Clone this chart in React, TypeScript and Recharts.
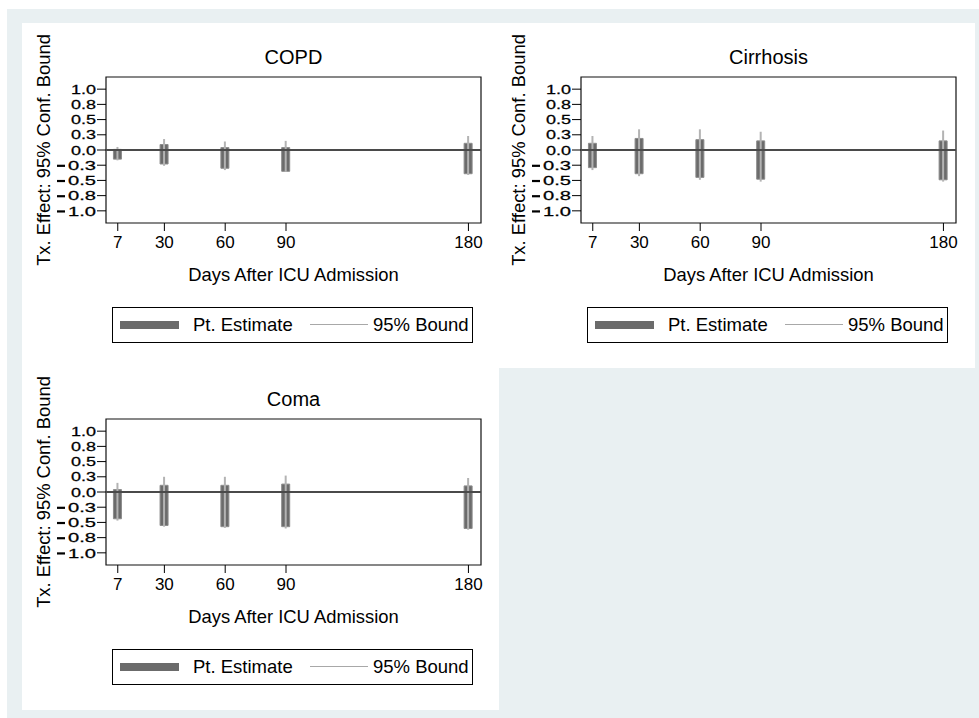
import React from 'react'
import { Bar, ComposedChart, ReferenceArea, ReferenceLine, XAxis, YAxis } from 'recharts'

const days = [7, 30, 60, 90, 180]
const xTicks = [7, 30, 60, 90, 180]
const yTicks = [-1, -0.75, -0.5, -0.25, 0, 0.25, 0.5, 0.75, 1]
const yTickLabels = ['-1.0', '-0.8', '-0.5', '-0.3', '0.0', '0.3', '0.5', '0.8', '1.0']

// COPD
const copdEstLow = [-0.15, -0.23, -0.3, -0.35, -0.39]
const copdEstHigh = [0.01, 0.09, 0.04, 0.04, 0.11]
const copdBoundLow = [-0.17, -0.26, -0.33, -0.36, -0.41]
const copdBoundHigh = [0.05, 0.18, 0.14, 0.15, 0.23]

// Cirrhosis
const cirrEstLow = [-0.29, -0.39, -0.45, -0.48, -0.49]
const cirrEstHigh = [0.11, 0.19, 0.17, 0.15, 0.15]
const cirrBoundLow = [-0.33, -0.43, -0.49, -0.52, -0.52]
const cirrBoundHigh = [0.23, 0.34, 0.34, 0.3, 0.32]

// Coma
const comaEstLow = [-0.44, -0.55, -0.57, -0.57, -0.6]
const comaEstHigh = [0.04, 0.11, 0.11, 0.13, 0.1]
const comaBoundLow = [-0.47, -0.57, -0.59, -0.6, -0.62]
const comaBoundHigh = [0.15, 0.25, 0.25, 0.27, 0.23]

const FONT = 'Liberation Sans, Arial, Helvetica, sans-serif'
const X_DOMAIN: [number, number] = [1.2, 186.2]
const Y_DOMAIN: [number, number] = [-1.2, 1.2]
const EST_COLOR = '#6b6b6b'
const BOUND_COLOR = '#b3b3b3'

function buildRows(estLow: number[], estHigh: number[], boundLow: number[], boundHigh: number[]) {
  return days.map((day, i) => ({
    day,
    est: [estLow[i], estHigh[i]],
    bound: [boundLow[i], boundHigh[i]],
  }))
}

function YTick(props: any) {
  const { x, y, payload } = props
  const idx = yTicks.indexOf(payload.value)
  const label = idx >= 0 ? yTickLabels[idx] : String(payload.value)
  const neg = label.startsWith('-')
  const digits = neg ? label.slice(1) : label
  const stretch = neg ? { textLength: 28, lengthAdjust: 'spacingAndGlyphs' } : {}
  return (
    <g>
      {neg && <rect x={x - 39} y={y - 0.5} width={8} height={2.2} fill="#000" />}
      <text
        transform={`translate(${x},${y}) scale(1,0.72)`}
        textAnchor="end"
        dy="0.36em"
        fontSize={18}
        fontFamily={FONT}
        fill="#000"
        stroke="#000"
        strokeWidth={0.35}
        {...stretch}
      >
        {digits}
      </text>
    </g>
  )
}

function YTitle(props: any) {
  const vb = props.viewBox || { x: 0, y: 0, width: 0, height: 0 }
  const cx = vb.x + 21
  const cy = vb.y + vb.height / 2
  return (
    <text
      x={cx}
      y={cy}
      transform={`rotate(-90, ${cx}, ${cy})`}
      textAnchor="middle"
      dy="0.36em"
      fontSize={18.4}
      fontFamily={FONT}
      fill="#000"
    >
      Tx. Effect: 95% Conf. Bound
    </text>
  )
}

function LegendBox() {
  return (
    <div
      style={{
        position: 'absolute',
        left: 90,
        top: 284,
        width: 361,
        height: 36,
        border: '1px solid #000',
        boxSizing: 'border-box',
        background: '#fff',
        fontFamily: FONT,
        fontSize: 18.5,
        color: '#000',
      }}
    >
      <div style={{ position: 'absolute', left: 7, top: 13, width: 59, height: 8, background: EST_COLOR }} />
      <div style={{ position: 'absolute', left: 80, top: 0, lineHeight: '34px', whiteSpace: 'nowrap' }}>Pt. Estimate</div>
      <div style={{ position: 'absolute', left: 197, top: 16, width: 58, height: 1, background: '#a8a8a8' }} />
      <div style={{ position: 'absolute', left: 260, top: 0, lineHeight: '34px', whiteSpace: 'nowrap' }}>95% Bound</div>
    </div>
  )
}

function Panel({ title, rows, left, top }: { title: string; rows: any[]; left: number; top: number }) {
  return (
    <div style={{ position: 'absolute', left, top, width: 476, height: 345 }}>
      <div
        style={{
          position: 'absolute',
          left: 84,
          width: 375,
          top: 24,
          textAlign: 'center',
          fontSize: 20,
          lineHeight: '20px',
          fontFamily: FONT,
          color: '#000',
        }}
      >
        {title}
      </div>
      <ComposedChart width={476} height={345} data={rows} margin={{ top: 54, right: 17, bottom: 87, left: 0 }}>
        <XAxis
          xAxisId="a"
          dataKey="day"
          type="number"
          domain={X_DOMAIN}
          ticks={xTicks}
          interval={0}
          allowDataOverflow
          height={58}
          tickSize={8}
          tickMargin={5}
          axisLine={false}
          tickLine={{ stroke: '#000' }}
          tick={{ fill: '#000', fontSize: 17, fontFamily: FONT }}
          label={{
            value: 'Days After ICU Admission',
            position: 'insideBottom',
            offset: 0,
            fill: '#000',
            fontSize: 18.4,
            fontFamily: FONT,
          }}
        />
        <XAxis xAxisId="b" dataKey="day" type="number" domain={X_DOMAIN} allowDataOverflow hide />
        <YAxis
          type="number"
          domain={Y_DOMAIN}
          ticks={yTicks}
          interval={0}
          allowDataOverflow
          width={84}
          tickSize={9}
          tickMargin={1}
          axisLine={false}
          tickLine={{ stroke: '#000' }}
          tick={<YTick />}
          label={{ content: <YTitle /> }}
        />
        <ReferenceLine xAxisId="a" y={0} stroke="#4a4a4a" strokeWidth={2} />
        <Bar
          xAxisId="a"
          dataKey="est"
          name="Pt. Estimate"
          barSize={8}
          fill={EST_COLOR}
          stroke="#8c8c8c"
          strokeWidth={1}
          isAnimationActive={false}
        />
        <Bar xAxisId="b" dataKey="bound" name="95% Bound" barSize={2} fill={BOUND_COLOR} isAnimationActive={false} />
        <ReferenceArea
          xAxisId="a"
          x1={X_DOMAIN[0]}
          x2={X_DOMAIN[1]}
          y1={Y_DOMAIN[0]}
          y2={Y_DOMAIN[1]}
          fill="none"
          stroke="#111"
          strokeWidth={1.2}
          ifOverflow="visible"
        />
      </ComposedChart>
      <LegendBox />
    </div>
  )
}

export default function App() {
  const copdRows = buildRows(copdEstLow, copdEstHigh, copdBoundLow, copdBoundHigh)
  const cirrRows = buildRows(cirrEstLow, cirrEstHigh, cirrBoundLow, cirrBoundHigh)
  const comaRows = buildRows(comaEstLow, comaEstHigh, comaBoundLow, comaBoundHigh)

  return (
    <div style={{ position: 'absolute', left: 0, top: 0, width: 979, height: 718, background: '#fff', overflow: 'hidden' }}>
      <div style={{ position: 'absolute', left: 7, top: 9, right: 0, bottom: 0, background: '#e9f0f2' }} />
      <div style={{ position: 'absolute', left: 22, top: 23, width: 953, height: 345, background: '#fff' }} />
      <div style={{ position: 'absolute', left: 22, top: 368, width: 477, height: 342, background: '#fff' }} />
      <Panel title="COPD" rows={copdRows} left={22} top={23} />
      <Panel title="Cirrhosis" rows={cirrRows} left={497} top={23} />
      <Panel title="Coma" rows={comaRows} left={22} top={365} />
    </div>
  )
}
